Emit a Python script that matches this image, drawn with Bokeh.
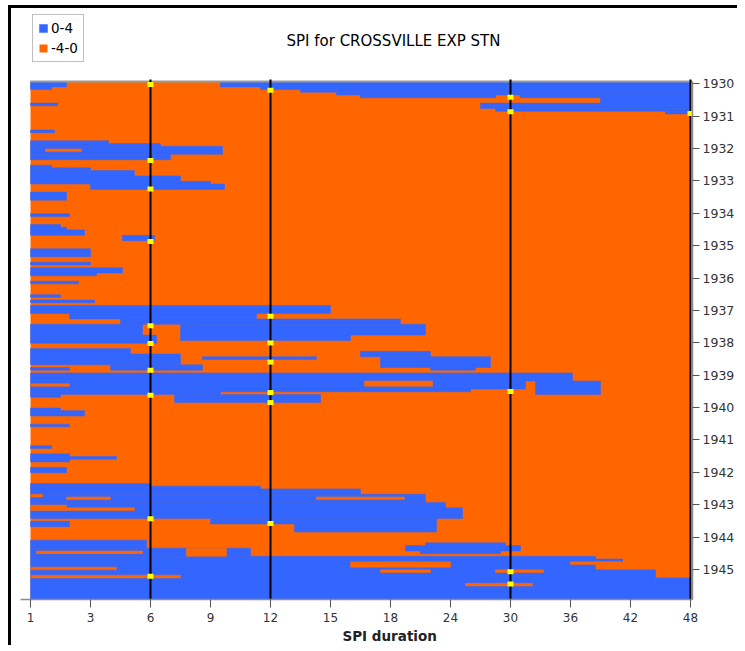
import numpy as np
from bokeh.plotting import figure
from bokeh.models import Range1d, FixedTicker, Label, Legend, LegendItem, ColumnDataSource, Title
from bokeh.embed import file_html
from bokeh.resources import INLINE

title_text = "SPI for CROSSVILLE EXP STN"
x_title = "SPI duration"
duration_ticks = [1, 3, 6, 9, 12, 15, 18, 24, 30, 36, 42, 48]
years = list(range(1930, 1946))
n_months = 192
ref_durations = [6, 12, 30, 48]

# wet spells (SPI 0..4): month index start/end (0 = Jan 1930), duration start/end
wet_m0 = [0, 2, 8, 18, 0, 2, 3, 4, 5, 5, 6, 8, 10, 11,
          22, 23, 24, 27, 31, 32, 33, 35, 37, 38,
          41, 49, 53, 54, 55, 57, 62, 67, 69, 71, 74, 79, 81,
          83, 86, 88, 90, 94, 90, 94,
          99, 101, 105, 102, 106, 100, 102, 106,
          108, 111, 111, 114, 115, 116, 116,
          121, 122, 127, 135, 138, 139, 143,
          149, 150, 151, 153, 156, 158, 162, 164, 163,
          171, 172, 174,
          170, 173, 176, 177, 181, 184]
wet_m1 = [2, 3, 9, 19, 2, 3, 4, 5, 6, 6, 8, 10, 11, 12,
          23, 24, 27, 29, 32, 33, 35, 37, 38, 40,
          44, 50, 54, 55, 57, 59, 65, 68, 71, 72, 75, 80, 82,
          86, 88, 90, 94, 97, 94, 96,
          101, 105, 107, 103, 107, 102, 106, 107,
          111, 114, 116, 115, 116, 119, 117,
          122, 124, 128, 136, 141, 140, 145,
          150, 151, 153, 156, 158, 162, 164, 167, 165,
          172, 174, 175,
          173, 176, 192, 178, 192, 192]
wet_d0 = [1, 1, 1, 1, 9.5, 11.5, 13.5, 15.3, 16.5, 31, 39, 27, 28.5, 45.5,
          1, 1, 1, 1, 1, 1, 1, 1, 1, 3,
          1, 1, 1, 1, 1, 4.6, 1, 1, 1, 1, 1, 1, 1,
          1, 2.3, 4.5, 1, 1, 7.5, 7.5,
          1, 1, 4, 8.6, 1, 16.5, 17.5, 22,
          1, 1, 32.5, 1, 1, 7.2, 1,
          1, 1, 1, 1, 1, 2.3, 1,
          1, 1, 1, 1, 1, 1, 9, 13.2, 1,
          21.5, 19.5, 21,
          1, 1, 1, 38.5, 38.5, 44.5]
wet_d1 = [2.2, 1.7, 1.9, 1.8, 48, 48, 48, 48, 28.5, 48, 48, 48, 48, 48,
          3.9, 6.5, 9.6, 7.0, 1.7, 3.0, 5.2, 7.5, 9.0, 9.7,
          2.2, 2.3, 2.0, 2.2, 2.8, 6.2, 3.0, 3.0, 4.6, 3.3, 2.6, 2.0, 3.2,
          15.0, 11.3, 19.0, 5.6, 6.3, 21.5, 16.0,
          5.0, 7.5, 8.6, 14.3, 2.3, 22, 28, 26.5,
          36.2, 31.5, 39, 26, 9.5, 14.5, 2.0,
          2.0, 2.8, 2.3, 1.7, 2.3, 4.3, 2.2,
          6.0, 11.5, 16.5, 21.5, 23.5, 25.2, 22.6, 22.6, 2.3,
          29.5, 31, 29,
          5.8, 11, 38.5, 41.2, 44.5, 48]

# dry pockets (SPI -4..0) inside wet spells
dry_m0 = [25, 112, 111, 153, 154, 154, 157, 158, 174, 173, 178, 181, 181, 186, 178, 183, 180]
dry_m1 = [26, 113, 113, 154, 155, 155, 158, 159, 175, 176, 180, 182, 182, 187, 179, 184, 181]
dry_d0 = [1.5, 1, 16.7, 1, 2.2, 14.3, 1, 1, 1.2, 7.8, 16, 17.5, 28.5, 25.5, 36, 1, 1]
dry_d1 = [2.7, 2.3, 22.2, 1.4, 4.0, 19.4, 2.2, 5.2, 5.6, 9.8, 24, 22, 33.3, 32.2, 41, 7.5, 4.3]

# drought onset markers on the reference durations
marker_dur = [6] * 10 + [12] * 7 + [30] * 5 + [48]
marker_month = [1.1, 29.3, 39.8, 59.3, 90.5, 97.1, 107.0, 116.3, 162.1, 183.4,
                3.2, 87.0, 96.9, 104.0, 115.3, 119.0, 163.8,
                5.8, 11.2, 114.9, 181.7, 186.3,
                11.9]

BLUE = "#3366FF"
ORANGE = "#FF6600"
FONT = "DejaVu Sans"

tick_idx = list(range(len(duration_ticks)))


def pos(d):
    return np.interp(np.asarray(d, dtype=float), duration_ticks, tick_idx)


PX_X = 60.0              # pixels per duration tick step
PX_M = 518.0 / n_months  # pixels per month
FRAME_W, FRAME_H = 672, 591
x0 = pos(duration_ticks[0]) - 10 / PX_X
top_extra = (FRAME_H - 518) / PX_M

p = figure(frame_width=FRAME_W, frame_height=FRAME_H, output_backend="svg", toolbar_location=None,
           x_range=Range1d(x0, x0 + FRAME_W / PX_X), y_range=Range1d(n_months, -top_extra),
           y_axis_location="right", min_border_left=9, min_border_right=45,
           min_border_top=0, min_border_bottom=46, title_location=None)
p.styles = {"border-top": "3px solid black", "border-left": "3px solid black",
            "margin-top": "5px", "margin-left": "8px"}
p.outline_line_color = None
p.xgrid.visible = False
p.ygrid.visible = False
p.background_fill_color = "white"

bg = ColumnDataSource(dict(left=[pos(duration_ticks[0])], right=[pos(duration_ticks[-1])],
                           top=[0], bottom=[n_months]))
bg_r = p.quad(left="left", right="right", top="top", bottom="bottom", source=bg,
              fill_color=ORANGE, line_color=None)

wet = ColumnDataSource(dict(left=pos(wet_d0), right=pos(wet_d1), top=wet_m0, bottom=wet_m1))
wet_r = p.quad(left="left", right="right", top="top", bottom="bottom", source=wet,
               fill_color=BLUE, line_color=BLUE, line_width=0.5)

dry = ColumnDataSource(dict(left=pos(dry_d0), right=pos(dry_d1), top=dry_m0, bottom=dry_m1))
p.quad(left="left", right="right", top="top", bottom="bottom", source=dry,
       fill_color=ORANGE, line_color=ORANGE, line_width=0.5)

# top edge of the data area
p.segment(x0=[pos(duration_ticks[0])], x1=[pos(duration_ticks[-1]) + 0.03], y0=[0], y1=[0],
          line_color="#9a9a9a", line_width=2)

# reference duration lines
rl = ColumnDataSource(dict(x=pos(ref_durations), y0=[-0.7] * len(ref_durations),
                           y1=[n_months] * len(ref_durations)))
p.segment(x0="x", x1="x", y0="y0", y1="y1", source=rl, line_color="black", line_width=2)

mk = ColumnDataSource(dict(x=pos(marker_dur), y=marker_month))
p.rect(x="x", y="y", width=6, height=5, width_units="screen", height_units="screen",
       source=mk, fill_color="#FFFF00", line_color=None)

# axes
xa = p.xaxis[0]
xa.ticker = FixedTicker(ticks=tick_idx)
xa.major_label_overrides = {i: str(d) for i, d in zip(tick_idx, duration_ticks)}
xa.axis_line_color = "#8c8c8c"
xa.axis_line_width = 1.5
xa.major_tick_line_color = "#555555"
xa.major_tick_out = 8
xa.major_tick_in = 0
xa.minor_tick_line_color = None
xa.major_label_standoff = 5
xa.major_label_text_font = FONT
xa.major_label_text_font_size = "12px"
xa.major_label_text_color = "#333333"

ya = p.yaxis[0]
ytick_vals = [12 * i + 0.85 for i in range(len(years))]
ya.ticker = FixedTicker(ticks=ytick_vals)
ya.major_label_overrides = {v: str(y) for v, y in zip(ytick_vals, years)}
ya.bounds = (0, n_months)
ya.axis_line_color = "#8c8c8c"
ya.axis_line_width = 1.5
ya.major_tick_line_color = "#555555"
ya.major_tick_out = 7
ya.major_tick_in = 0
ya.minor_tick_line_color = None
ya.major_label_standoff = 3
ya.major_label_text_font = FONT
ya.major_label_text_font_size = "12.5px"
ya.major_label_text_color = "#333333"

p.add_layout(Label(x=373, y=FRAME_H - 32, x_units="screen", y_units="screen", text=title_text,
                   text_align="center", text_baseline="middle", text_font=FONT,
                   text_font_size="15px", text_color="black"))

p.add_layout(Title(text=x_title, align="left", offset=322, standoff=2, text_font=FONT,
                   text_font_size="13.5px", text_font_style="bold", text_color="#222222"), "below")

legend = Legend(items=[LegendItem(label="0-4", renderers=[wet_r]),
                       LegendItem(label="-4-0", renderers=[bg_r])],
                location=(12, FRAME_H - 54), orientation="vertical")
legend.glyph_width = 10
legend.glyph_height = 10
legend.label_height = 13
legend.label_width = 16
legend.label_standoff = 3
legend.spacing = 4
legend.padding = 5
legend.margin = 0
legend.label_text_font = FONT
legend.label_text_font_size = "13.5px"
legend.label_text_color = "black"
legend.border_line_color = "#808080"
legend.border_line_width = 1
legend.background_fill_color = "white"
legend.background_fill_alpha = 1
p.add_layout(legend)

open("out.html", "w").write(file_html(p, INLINE))
